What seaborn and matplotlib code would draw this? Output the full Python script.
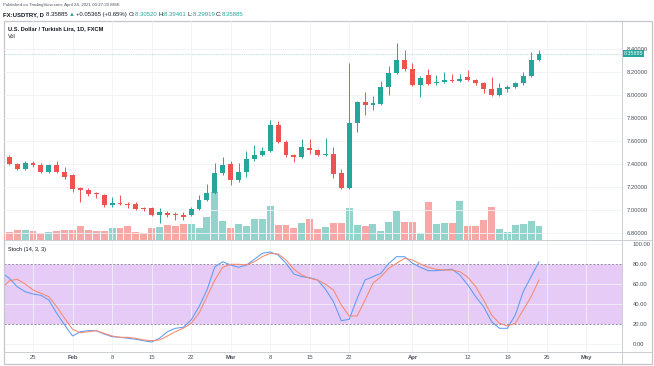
import matplotlib
matplotlib.use("Agg")
import matplotlib.pyplot as plt
import matplotlib.transforms as mtransforms
from matplotlib.patches import Rectangle
from matplotlib.lines import Line2D
import seaborn as sns
import pandas as pd
import numpy as np

# Daily USD/TRY candles, Jan 19 .. Apr 23 2021 (trading days)
open_ = [7.49, 7.46, 7.40, 7.36, 7.41, 7.39, 7.33, 7.39, 7.33, 7.30,
         7.19, 7.17, 7.15, 7.13, 7.04, 7.06, 7.05, 7.05, 7.01, 7.02,
         6.955, 6.975, 6.96, 6.955, 6.955, 7.005, 7.09, 7.15, 7.32, 7.40,
         7.26, 7.33, 7.44, 7.48, 7.51, 7.74, 7.59, 7.48, 7.465, 7.54,
         7.52, 7.475, 7.49, 7.32, 7.19, 7.76, 7.94, 7.915, 7.925, 8.07,
         8.19, 8.30, 8.225, 8.09, 8.175, 8.10, 8.11, 8.13, 8.122, 8.16,
         8.13, 8.10, 8.05, 8.00, 8.055, 8.07, 8.10, 8.165, 8.30520]
high = [7.51, 7.48, 7.41, 7.43, 7.43, 7.41, 7.40, 7.43, 7.37, 7.31,
        7.20, 7.19, 7.16, 7.14, 7.11, 7.13, 7.07, 7.07, 7.03, 7.03,
        7.02, 6.99, 6.98, 6.98, 7.03, 7.13, 7.23, 7.41, 7.46, 7.43,
        7.41, 7.51, 7.565, 7.55, 7.78, 7.77, 7.61, 7.49, 7.615, 7.615,
        7.53, 7.63, 7.55, 7.36, 8.28, 7.95, 8.03, 7.99, 8.125, 8.25,
        8.45, 8.39, 8.275, 8.165, 8.23, 8.17, 8.20, 8.18, 8.18, 8.22,
        8.14, 8.11, 8.155, 8.10, 8.09, 8.11, 8.20, 8.37, 8.39461]
low = [7.44, 7.39, 7.35, 7.35, 7.37, 7.32, 7.32, 7.32, 7.27, 7.16,
       7.07, 7.12, 7.10, 7.03, 7.03, 7.04, 7.02, 7.00, 6.99, 6.95,
       6.89, 6.94, 6.91, 6.91, 6.945, 7.00, 7.08, 7.14, 7.30, 7.22,
       7.24, 7.29, 7.43, 7.47, 7.50, 7.58, 7.46, 7.42, 7.455, 7.49,
       7.47, 7.47, 7.28, 7.18, 7.18, 7.68, 7.83, 7.87, 7.91, 8.00,
       8.18, 8.21, 8.08, 7.98, 8.09, 8.09, 8.10, 8.115, 8.115, 8.12,
       8.09, 8.02, 7.99, 7.99, 8.03, 8.06, 8.09, 8.16, 8.29919]
close = [7.46, 7.40, 7.36, 7.41, 7.39, 7.33, 7.39, 7.33, 7.29, 7.18,
         7.17, 7.14, 7.14, 7.04, 7.06, 7.05, 7.045, 7.01, 7.005, 6.96,
         6.98, 6.96, 6.955, 6.94, 7.005, 7.09, 7.15, 7.32, 7.39, 7.26,
         7.33, 7.44, 7.48, 7.51, 7.74, 7.59, 7.48, 7.465, 7.545, 7.52,
         7.48, 7.49, 7.31, 7.19, 7.76, 7.94, 7.915, 7.93, 8.07, 8.19,
         8.30, 8.225, 8.09, 8.145, 8.095, 8.115, 8.13, 8.122, 8.14, 8.13,
         8.10, 8.05, 8.00, 8.06, 8.07, 8.10, 8.165, 8.305, 8.35885]
volume = [7, 7.7, 10.3, 10.3, 9.3, 7, 8.3, 9.3, 10, 10,
          14.3, 10.3, 9.3, 9.3, 11.7, 11.7, 13.7, 8.3, 7, 11.7,
          12.7, 14.7, 14, 15.7, 16, 11.7, 22.7, 48.3, 19.3, 11.7,
          16, 14.3, 20.7, 20.7, 34.3, 14.7, 14.7, 11.7, 17.3, 20.7,
          10.7, 13.3, 16.7, 17.3, 32.3, 15, 14, 16, 9.3, 18.3,
          29.3, 18.3, 18.3, 6.7, 38.3, 16, 17, 17, 39.3, 14.3,
          13.7, 20.3, 32.7, 11, 7.7, 15, 15.7, 19.3, 14.3]
stoch_k = [72, 66, 57.6, 52.6, 50.3, 49, 44.3, 31, 19.3, 8.3,
           12.6, 13.6, 13.6, 10.3, 7.6, 7, 6, 5, 3.6, 2.3,
           6, 12.6, 16, 17, 24.3, 37.6, 54.3, 77.6, 82.6, 79.3,
           77, 79.3, 85, 91, 92.3, 89.3, 81, 70.3, 67.6, 66.6,
           64.3, 55, 42.6, 23.6, 25, 46, 64.3, 67.6, 71, 81,
           87.6, 87.6, 81, 77, 73.6, 73.6, 74.3, 75, 69.3, 59.3,
           47.6, 37.6, 22.6, 16, 16, 29.3, 52.6, 67.6, 82.6]
stoch_d = [55, 63.6, 65, 60.3, 54.3, 51, 47.6, 37.6, 26, 15,
           11.6, 12.6, 13.6, 11, 8.3, 7, 7, 6, 4.3, 3.6,
           4.3, 8.3, 12.6, 16, 21, 31, 47.6, 64.3, 77, 80,
           80, 79.3, 82.6, 87.6, 91, 90.3, 84.3, 75, 69.3, 66,
           64.3, 60, 54.3, 39.3, 28.3, 28.3, 44.3, 61, 67.6, 76,
           81, 86, 84.3, 80.3, 77, 75, 74.3, 74.3, 72.6, 67,
           57.6, 44.3, 29.3, 21, 18.3, 21, 34.3, 47.6, 64.3]

tick_dates = ["2021-01-25", "2021-02-01", "2021-02-08", "2021-02-15", "2021-02-22",
              "2021-03-01", "2021-03-08", "2021-03-15", "2021-03-22", "2021-04-01",
              "2021-04-12", "2021-04-19", "2021-04-26", "2021-05-03"]
tick_labels = ["25", "Feb", "8", "15", "22", "Mar", "8", "15", "22", "Apr",
               "12", "19", "26", "May"]
month_labels = ["Feb", "Mar", "Apr", "May"]
price_ticks = [6.8, 7.0, 7.2, 7.4, 7.6, 7.8, 8.0, 8.2, 8.4]
stoch_ticks = [0, 20, 40, 60, 80, 100]

GREEN = "#26a69a"
RED = "#ef5350"
VOL_GREEN = "#92d3cc"
VOL_RED = "#f7a8a6"
K_COLOR = "#5b9cf6"
D_COLOR = "#f58a6e"
BAND = "#e6cbf6"
FRAME = "#c3c6cc"
GRID = "#f0f2f6"
TEXT = "#4c525e"
DARK = "#131722"
FS_AXIS = 4.2

W, H = 654, 366


def fx(px):
    return px / W


def fy(py):
    return 1 - py / H


sns.set_theme(style="white")
plt.rcParams["font.family"] = ["Liberation Sans", "DejaVu Sans"]

fig = plt.figure(figsize=(W / 100, H / 100), dpi=100)
fig.patch.set_facecolor("white")

rect_price = [fx(4), fy(240), fx(622) - fx(4), fy(21) - fy(240)]
rect_stoch = [fx(4), fy(352), fx(622) - fx(4), fy(240) - fy(352)]
ax = fig.add_axes(rect_price)
ax_st = fig.add_axes(rect_stoch)
ax_vol = ax.twinx()
ax.set_zorder(2)
ax_vol.set_zorder(1)
ax.patch.set_visible(False)

dates = pd.bdate_range("2021-01-19", periods=95)
n = len(close)
pos = np.arange(n)
tick_pos = dates.get_indexer(pd.to_datetime(tick_dates))
xlim = (0.33, 78.5)

# volume bars (behind the candles)
up = np.array(close) >= np.array(open_)
df_vol = pd.DataFrame({"x": pos, "vol": volume, "dir": np.where(up, "up", "down")})
sns.barplot(data=df_vol, x="x", y="vol", hue="dir", native_scale=True,
            palette={"up": VOL_GREEN, "down": VOL_RED}, width=0.88,
            saturation=1, linewidth=0, errorbar=None, legend=False, ax=ax_vol)
ax_vol.set_ylim(0, 219)
ax_vol.set_yticks([])
ax_vol.set_ylabel("")
ax_vol.set_xlim(*xlim)

# candles
o = np.array(open_)
c = np.array(close)
colors = np.where(up, GREEN, RED)
ax.vlines(pos, low, high, colors=colors, lw=0.7, zorder=3)
body = np.maximum(np.abs(c - o), 0.008)
ax.bar(pos, body, bottom=np.minimum(o, c), width=0.62, color=colors, lw=0, zorder=4)
ax.axhline(close[-1], color=GREEN, lw=0.5, ls=(0, (1, 1.5)), alpha=0.6, zorder=2)

ax.set_xlim(*xlim)
ax.set_ylim(6.739, 8.6435)
ax.set_xticks(tick_pos)
ax.set_xticklabels([])
ax.set_yticks(price_ticks)
ax.set_yticklabels([f"{v:.5f}" for v in price_ticks])
ax.yaxis.tick_right()
ax.tick_params(axis="y", length=0, pad=3.4, labelsize=FS_AXIS, labelcolor=TEXT)
ax.tick_params(axis="x", length=0)
ax.grid(True, color=GRID, lw=0.6)

trans = mtransforms.blended_transform_factory(ax.transAxes, ax.transData)
ax.text(1.003, close[-1], f"{close[-1]:.5f}", transform=trans, ha="left", va="center",
        fontsize=3.9, color="white", clip_on=False, zorder=10,
        bbox=dict(boxstyle="square,pad=0.18", fc=GREEN, ec="none"))

# stochastic pane
ax_st.axhspan(20, 80, color=BAND, lw=0, zorder=0)
for lvl in (20, 80):
    ax_st.axhline(lvl, color="#8d7c9e", lw=0.6, ls=(0, (2.5, 2)), zorder=1)
sns.lineplot(x=pos, y=stoch_k, color=K_COLOR, lw=0.75, ax=ax_st, zorder=3)
sns.lineplot(x=pos, y=stoch_d, color=D_COLOR, lw=0.75, ax=ax_st, zorder=3)
ax_st.set_xlim(*xlim)
ax_st.set_ylim(-7.7, 104.3)
ax_st.set_yticks(stoch_ticks)
ax_st.set_yticklabels([f"{v:.2f}" for v in stoch_ticks])
ax_st.yaxis.tick_right()
ax_st.set_xticks(tick_pos)
ax_st.set_xticklabels(tick_labels)
for lab in ax_st.get_xticklabels():
    if lab.get_text() in month_labels:
        lab.set_fontweight("bold")
ax_st.tick_params(axis="y", length=0, pad=7.5, labelsize=FS_AXIS, labelcolor=TEXT)
ax_st.tick_params(axis="x", length=0, pad=2, labelsize=FS_AXIS, labelcolor=TEXT)
ax_st.grid(True, color=GRID, lw=0.6, zorder=0)
ax_st.set_axisbelow(True)

for a in (ax, ax_vol, ax_st):
    for s in a.spines.values():
        s.set_visible(False)

# frame and pane separators
fig.add_artist(Rectangle((fx(4), fy(364)), fx(652) - fx(4), fy(21) - fy(364),
                         transform=fig.transFigure, fill=False, ec=FRAME, lw=0.9))
for (x0, y0, x1, y1) in [(622, 21, 622, 364), (4, 240, 652, 240), (4, 352, 652, 352)]:
    fig.add_artist(Line2D([fx(x0), fx(x1)], [fy(y0), fy(y1)],
                          transform=fig.transFigure, color=FRAME, lw=0.6))

# header texts
fig.text(fx(3), fy(5), "Published on TradingView.com, April 24, 2021 00:27:30 MSK",
         fontsize=3.2, color=TEXT, va="center")
pieces = [("FX:USDTRY, D ", DARK, "bold"), ("8.35885 ", DARK, "normal"),
          ("▲ ", GREEN, "normal"), ("+0.05365 (+0.65%) ", DARK, "normal"),
          ("O:", DARK, "normal"), ("8.30520 ", GREEN, "normal"),
          ("H:", DARK, "normal"), ("8.39461 ", GREEN, "normal"),
          ("L:", DARK, "normal"), ("8.29919 ", GREEN, "normal"),
          ("C:", DARK, "normal"), ("8.35885", GREEN, "normal")]
t = fig.text(fx(3), fy(17), pieces[0][0], fontsize=4.3, color=pieces[0][1],
             fontweight=pieces[0][2], va="bottom")
for s, col, wt in pieces[1:]:
    t = ax.annotate(s, xy=(1, 0), xycoords=t, va="bottom", ha="left",
                    fontsize=4.3, color=col, fontweight=wt, annotation_clip=False)

fig.text(fx(8), fy(29), "U.S. Dollar / Turkish Lira, 1D, FXCM", fontsize=4.1,
         fontweight="bold", color=DARK, va="center")
fig.text(fx(8), fy(37), "Vol", fontsize=4.0, color=DARK, va="center")
fig.text(fx(8), fy(249), "Stoch (14, 3, 3)", fontsize=4.0, color=DARK, va="center")

fig.savefig("out.png", dpi=100, facecolor="white")
